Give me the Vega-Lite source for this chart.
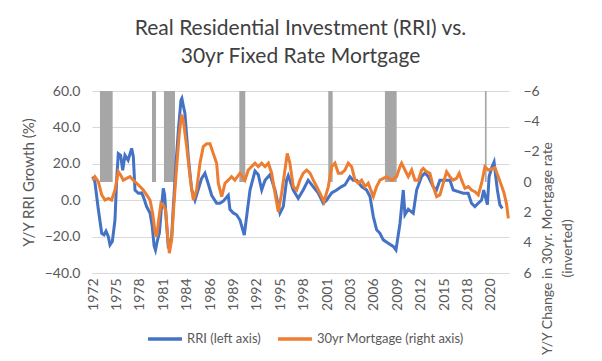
{
  "$schema": "https://vega.github.io/schema/vega-lite/v6.json",
  "width": 417,
  "height": 182,
  "autosize": {"type": "none"},
  "padding": {"left": 92, "top": 91, "right": 93, "bottom": 88},
  "background": "white",
  "config": {
    "font": "Lato",
    "view": {"stroke": null},
    "axis": {"labelFont": "Lato", "labelColor": "#595959", "titleColor": "#595959", "titleFont": "Lato", "titleFontWeight": "normal", "domain": false, "ticks": false, "labelOverlap": false}
  },
  "title": {
    "text": ["Real Residential Investment (RRI) vs.", "30yr Fixed Rate Mortgage"],
    "font": "Lato",
    "fontSize": 21,
    "fontWeight": "normal",
    "color": "#404040",
    "anchor": "middle",
    "lineHeight": 28,
    "offset": 17
  },
  "datasets": {
    "rec": [
      {"start": 1973.71, "end": 1975.24},
      {"start": 1979.98, "end": 1980.46},
      {"start": 1981.42, "end": 1982.75},
      {"start": 1990.5, "end": 1991.22},
      {"start": 2001.22, "end": 2001.75},
      {"start": 2008.05, "end": 2009.46},
      {"start": 2020.1, "end": 2020.3}
    ],
    "s": [
      {"t": 1972.83, "series": "RRI (left axis)", "v": 13},
      {"t": 1973.10, "series": "RRI (left axis)", "v": 10},
      {"t": 1973.51, "series": "RRI (left axis)", "v": -5},
      {"t": 1973.92, "series": "RRI (left axis)", "v": -18.2},
      {"t": 1974.20, "series": "RRI (left axis)", "v": -19},
      {"t": 1974.44, "series": "RRI (left axis)", "v": -17},
      {"t": 1974.72, "series": "RRI (left axis)", "v": -20},
      {"t": 1974.92, "series": "RRI (left axis)", "v": -24.6},
      {"t": 1975.20, "series": "RRI (left axis)", "v": -22.7},
      {"t": 1975.52, "series": "RRI (left axis)", "v": -10.9},
      {"t": 1975.72, "series": "RRI (left axis)", "v": 11},
      {"t": 1975.92, "series": "RRI (left axis)", "v": 25.6},
      {"t": 1976.20, "series": "RRI (left axis)", "v": 24.7},
      {"t": 1976.45, "series": "RRI (left axis)", "v": 16.5},
      {"t": 1976.72, "series": "RRI (left axis)", "v": 24.7},
      {"t": 1977.10, "series": "RRI (left axis)", "v": 22},
      {"t": 1977.53, "series": "RRI (left axis)", "v": 28.5},
      {"t": 1977.73, "series": "RRI (left axis)", "v": 23.9},
      {"t": 1977.93, "series": "RRI (left axis)", "v": 5.6},
      {"t": 1978.33, "series": "RRI (left axis)", "v": 3.8},
      {"t": 1978.73, "series": "RRI (left axis)", "v": 4},
      {"t": 1978.93, "series": "RRI (left axis)", "v": 2},
      {"t": 1979.33, "series": "RRI (left axis)", "v": -3.5},
      {"t": 1979.74, "series": "RRI (left axis)", "v": -7},
      {"t": 1980.00, "series": "RRI (left axis)", "v": -14},
      {"t": 1980.23, "series": "RRI (left axis)", "v": -25},
      {"t": 1980.40, "series": "RRI (left axis)", "v": -27.4},
      {"t": 1980.64, "series": "RRI (left axis)", "v": -22},
      {"t": 1980.87, "series": "RRI (left axis)", "v": -18},
      {"t": 1981.10, "series": "RRI (left axis)", "v": -5},
      {"t": 1981.34, "series": "RRI (left axis)", "v": 6.5},
      {"t": 1981.50, "series": "RRI (left axis)", "v": 3},
      {"t": 1981.72, "series": "RRI (left axis)", "v": -12},
      {"t": 1981.93, "series": "RRI (left axis)", "v": -25},
      {"t": 1982.15, "series": "RRI (left axis)", "v": -24},
      {"t": 1982.35, "series": "RRI (left axis)", "v": -20},
      {"t": 1982.55, "series": "RRI (left axis)", "v": -3.5},
      {"t": 1982.87, "series": "RRI (left axis)", "v": 20},
      {"t": 1983.15, "series": "RRI (left axis)", "v": 38},
      {"t": 1983.47, "series": "RRI (left axis)", "v": 55},
      {"t": 1983.58, "series": "RRI (left axis)", "v": 56},
      {"t": 1983.75, "series": "RRI (left axis)", "v": 52},
      {"t": 1983.95, "series": "RRI (left axis)", "v": 47.7},
      {"t": 1984.35, "series": "RRI (left axis)", "v": 23.9},
      {"t": 1984.76, "series": "RRI (left axis)", "v": 5.6},
      {"t": 1985.16, "series": "RRI (left axis)", "v": 0},
      {"t": 1985.56, "series": "RRI (left axis)", "v": 6},
      {"t": 1985.96, "series": "RRI (left axis)", "v": 12},
      {"t": 1986.36, "series": "RRI (left axis)", "v": 14.8},
      {"t": 1986.76, "series": "RRI (left axis)", "v": 9},
      {"t": 1987.17, "series": "RRI (left axis)", "v": 2.7},
      {"t": 1987.77, "series": "RRI (left axis)", "v": -1.7},
      {"t": 1988.17, "series": "RRI (left axis)", "v": -1.7},
      {"t": 1988.57, "series": "RRI (left axis)", "v": -0.5},
      {"t": 1989.17, "series": "RRI (left axis)", "v": 2.7},
      {"t": 1989.37, "series": "RRI (left axis)", "v": -5},
      {"t": 1989.77, "series": "RRI (left axis)", "v": -7},
      {"t": 1990.17, "series": "RRI (left axis)", "v": -8},
      {"t": 1990.58, "series": "RRI (left axis)", "v": -10.9},
      {"t": 1991.10, "series": "RRI (left axis)", "v": -19.1},
      {"t": 1991.79, "series": "RRI (left axis)", "v": 5.6},
      {"t": 1992.39, "series": "RRI (left axis)", "v": 16},
      {"t": 1992.79, "series": "RRI (left axis)", "v": 14},
      {"t": 1993.20, "series": "RRI (left axis)", "v": 5.6},
      {"t": 1993.60, "series": "RRI (left axis)", "v": 11},
      {"t": 1994.20, "series": "RRI (left axis)", "v": 14},
      {"t": 1994.80, "series": "RRI (left axis)", "v": 5.6},
      {"t": 1995.40, "series": "RRI (left axis)", "v": -7.2},
      {"t": 1995.80, "series": "RRI (left axis)", "v": -3.5},
      {"t": 1996.20, "series": "RRI (left axis)", "v": 11},
      {"t": 1996.40, "series": "RRI (left axis)", "v": 13.5},
      {"t": 1997.00, "series": "RRI (left axis)", "v": 5.6},
      {"t": 1997.60, "series": "RRI (left axis)", "v": 1},
      {"t": 1998.20, "series": "RRI (left axis)", "v": 5.6},
      {"t": 1998.80, "series": "RRI (left axis)", "v": 11},
      {"t": 1999.40, "series": "RRI (left axis)", "v": 7.5},
      {"t": 2000.00, "series": "RRI (left axis)", "v": 4},
      {"t": 2000.62, "series": "RRI (left axis)", "v": -1.7},
      {"t": 2001.02, "series": "RRI (left axis)", "v": 0},
      {"t": 2001.63, "series": "RRI (left axis)", "v": 4},
      {"t": 2002.23, "series": "RRI (left axis)", "v": 5.6},
      {"t": 2002.83, "series": "RRI (left axis)", "v": 7.5},
      {"t": 2003.23, "series": "RRI (left axis)", "v": 8.4},
      {"t": 2003.83, "series": "RRI (left axis)", "v": 12.9},
      {"t": 2004.23, "series": "RRI (left axis)", "v": 11},
      {"t": 2004.64, "series": "RRI (left axis)", "v": 11},
      {"t": 2005.24, "series": "RRI (left axis)", "v": 7.5},
      {"t": 2005.84, "series": "RRI (left axis)", "v": 5.6},
      {"t": 2006.25, "series": "RRI (left axis)", "v": 2},
      {"t": 2006.65, "series": "RRI (left axis)", "v": -9},
      {"t": 2007.05, "series": "RRI (left axis)", "v": -16.3},
      {"t": 2007.45, "series": "RRI (left axis)", "v": -18.2},
      {"t": 2007.85, "series": "RRI (left axis)", "v": -21.8},
      {"t": 2008.45, "series": "RRI (left axis)", "v": -23.6},
      {"t": 2009.05, "series": "RRI (left axis)", "v": -25.4},
      {"t": 2009.38, "series": "RRI (left axis)", "v": -27.4},
      {"t": 2009.86, "series": "RRI (left axis)", "v": -12.8},
      {"t": 2010.26, "series": "RRI (left axis)", "v": 5.6},
      {"t": 2010.46, "series": "RRI (left axis)", "v": -8},
      {"t": 2010.86, "series": "RRI (left axis)", "v": -5},
      {"t": 2011.46, "series": "RRI (left axis)", "v": -7.2},
      {"t": 2011.87, "series": "RRI (left axis)", "v": 5.6},
      {"t": 2012.47, "series": "RRI (left axis)", "v": 13},
      {"t": 2012.87, "series": "RRI (left axis)", "v": 15},
      {"t": 2013.27, "series": "RRI (left axis)", "v": 13},
      {"t": 2013.86, "series": "RRI (left axis)", "v": 7.5},
      {"t": 2014.26, "series": "RRI (left axis)", "v": 5.6},
      {"t": 2014.67, "series": "RRI (left axis)", "v": 11},
      {"t": 2015.48, "series": "RRI (left axis)", "v": 11},
      {"t": 2015.88, "series": "RRI (left axis)", "v": 11},
      {"t": 2016.28, "series": "RRI (left axis)", "v": 5.6},
      {"t": 2016.88, "series": "RRI (left axis)", "v": 4.7},
      {"t": 2017.48, "series": "RRI (left axis)", "v": 3.8},
      {"t": 2018.08, "series": "RRI (left axis)", "v": 3.8},
      {"t": 2018.48, "series": "RRI (left axis)", "v": -1.7},
      {"t": 2018.89, "series": "RRI (left axis)", "v": -3.5},
      {"t": 2019.29, "series": "RRI (left axis)", "v": -1.7},
      {"t": 2019.70, "series": "RRI (left axis)", "v": 0.1},
      {"t": 2019.95, "series": "RRI (left axis)", "v": 5.6},
      {"t": 2020.15, "series": "RRI (left axis)", "v": 2},
      {"t": 2020.40, "series": "RRI (left axis)", "v": -2.5},
      {"t": 2020.60, "series": "RRI (left axis)", "v": 12.9},
      {"t": 2020.95, "series": "RRI (left axis)", "v": 18.4},
      {"t": 2021.20, "series": "RRI (left axis)", "v": 21},
      {"t": 2021.40, "series": "RRI (left axis)", "v": 13},
      {"t": 2021.60, "series": "RRI (left axis)", "v": 5.6},
      {"t": 2021.90, "series": "RRI (left axis)", "v": -2.6},
      {"t": 2022.20, "series": "RRI (left axis)", "v": -4.5},

      {"t": 1972.83, "series": "30yr Mortgage (right axis)", "v": -0.12},
      {"t": 1973.10, "series": "30yr Mortgage (right axis)", "v": -0.35},
      {"t": 1973.51, "series": "30yr Mortgage (right axis)", "v": -0.02},
      {"t": 1973.92, "series": "30yr Mortgage (right axis)", "v": 0.85},
      {"t": 1974.32, "series": "30yr Mortgage (right axis)", "v": 1.19},
      {"t": 1974.72, "series": "30yr Mortgage (right axis)", "v": 1.08},
      {"t": 1975.12, "series": "30yr Mortgage (right axis)", "v": 1.19},
      {"t": 1975.52, "series": "30yr Mortgage (right axis)", "v": 0.53},
      {"t": 1975.92, "series": "30yr Mortgage (right axis)", "v": -0.68},
      {"t": 1976.20, "series": "30yr Mortgage (right axis)", "v": -0.46},
      {"t": 1976.52, "series": "30yr Mortgage (right axis)", "v": -0.12},
      {"t": 1976.92, "series": "30yr Mortgage (right axis)", "v": -0.24},
      {"t": 1977.33, "series": "30yr Mortgage (right axis)", "v": -0.35},
      {"t": 1977.73, "series": "30yr Mortgage (right axis)", "v": -0.12},
      {"t": 1978.13, "series": "30yr Mortgage (right axis)", "v": 0.08},
      {"t": 1978.53, "series": "30yr Mortgage (right axis)", "v": 0.30},
      {"t": 1978.93, "series": "30yr Mortgage (right axis)", "v": 0.53},
      {"t": 1979.33, "series": "30yr Mortgage (right axis)", "v": 0.85},
      {"t": 1979.74, "series": "30yr Mortgage (right axis)", "v": 1.19},
      {"t": 1980.06, "series": "30yr Mortgage (right axis)", "v": 2.06},
      {"t": 1980.34, "series": "30yr Mortgage (right axis)", "v": 3.26},
      {"t": 1980.54, "series": "30yr Mortgage (right axis)", "v": 3.60},
      {"t": 1980.78, "series": "30yr Mortgage (right axis)", "v": 2.51},
      {"t": 1981.06, "series": "30yr Mortgage (right axis)", "v": 1.40},
      {"t": 1981.34, "series": "30yr Mortgage (right axis)", "v": 1.51},
      {"t": 1981.62, "series": "30yr Mortgage (right axis)", "v": 1.85},
      {"t": 1981.87, "series": "30yr Mortgage (right axis)", "v": 3.60},
      {"t": 1982.07, "series": "30yr Mortgage (right axis)", "v": 4.69},
      {"t": 1982.35, "series": "30yr Mortgage (right axis)", "v": 3.82},
      {"t": 1982.63, "series": "30yr Mortgage (right axis)", "v": 1.40},
      {"t": 1982.95, "series": "30yr Mortgage (right axis)", "v": -1.01},
      {"t": 1983.27, "series": "30yr Mortgage (right axis)", "v": -3.20},
      {"t": 1983.55, "series": "30yr Mortgage (right axis)", "v": -4.44},
      {"t": 1983.75, "series": "30yr Mortgage (right axis)", "v": -4.08},
      {"t": 1984.16, "series": "30yr Mortgage (right axis)", "v": -2.33},
      {"t": 1984.56, "series": "30yr Mortgage (right axis)", "v": -0.35},
      {"t": 1984.96, "series": "30yr Mortgage (right axis)", "v": 1.19},
      {"t": 1985.36, "series": "30yr Mortgage (right axis)", "v": 0.53},
      {"t": 1985.76, "series": "30yr Mortgage (right axis)", "v": -1.24},
      {"t": 1986.16, "series": "30yr Mortgage (right axis)", "v": -2.33},
      {"t": 1986.56, "series": "30yr Mortgage (right axis)", "v": -2.52},
      {"t": 1986.97, "series": "30yr Mortgage (right axis)", "v": -2.52},
      {"t": 1987.37, "series": "30yr Mortgage (right axis)", "v": -1.87},
      {"t": 1987.77, "series": "30yr Mortgage (right axis)", "v": -1.24},
      {"t": 1987.97, "series": "30yr Mortgage (right axis)", "v": 0.08},
      {"t": 1988.38, "series": "30yr Mortgage (right axis)", "v": 0.96},
      {"t": 1988.78, "series": "30yr Mortgage (right axis)", "v": 0.08},
      {"t": 1989.17, "series": "30yr Mortgage (right axis)", "v": -0.12},
      {"t": 1989.57, "series": "30yr Mortgage (right axis)", "v": -0.35},
      {"t": 1989.97, "series": "30yr Mortgage (right axis)", "v": -0.12},
      {"t": 1990.58, "series": "30yr Mortgage (right axis)", "v": -0.58},
      {"t": 1991.18, "series": "30yr Mortgage (right axis)", "v": -0.12},
      {"t": 1991.58, "series": "30yr Mortgage (right axis)", "v": -0.79},
      {"t": 1991.98, "series": "30yr Mortgage (right axis)", "v": -1.01},
      {"t": 1992.39, "series": "30yr Mortgage (right axis)", "v": -1.24},
      {"t": 1992.79, "series": "30yr Mortgage (right axis)", "v": -1.01},
      {"t": 1993.20, "series": "30yr Mortgage (right axis)", "v": -1.24},
      {"t": 1993.60, "series": "30yr Mortgage (right axis)", "v": -1.01},
      {"t": 1994.00, "series": "30yr Mortgage (right axis)", "v": -1.24},
      {"t": 1994.40, "series": "30yr Mortgage (right axis)", "v": -0.58},
      {"t": 1994.80, "series": "30yr Mortgage (right axis)", "v": 0.74},
      {"t": 1995.20, "series": "30yr Mortgage (right axis)", "v": 1.96},
      {"t": 1995.60, "series": "30yr Mortgage (right axis)", "v": 0.74},
      {"t": 1996.00, "series": "30yr Mortgage (right axis)", "v": -0.79},
      {"t": 1996.28, "series": "30yr Mortgage (right axis)", "v": -1.88},
      {"t": 1996.60, "series": "30yr Mortgage (right axis)", "v": -1.24},
      {"t": 1997.00, "series": "30yr Mortgage (right axis)", "v": 0.30},
      {"t": 1997.41, "series": "30yr Mortgage (right axis)", "v": 0.53},
      {"t": 1997.81, "series": "30yr Mortgage (right axis)", "v": -0.12},
      {"t": 1998.21, "series": "30yr Mortgage (right axis)", "v": -0.58},
      {"t": 1998.62, "series": "30yr Mortgage (right axis)", "v": -0.79},
      {"t": 1999.02, "series": "30yr Mortgage (right axis)", "v": -0.58},
      {"t": 1999.42, "series": "30yr Mortgage (right axis)", "v": -0.12},
      {"t": 1999.82, "series": "30yr Mortgage (right axis)", "v": 0.30},
      {"t": 2000.22, "series": "30yr Mortgage (right axis)", "v": 0.74},
      {"t": 2000.70, "series": "30yr Mortgage (right axis)", "v": 1.30},
      {"t": 2001.23, "series": "30yr Mortgage (right axis)", "v": 0.30},
      {"t": 2001.63, "series": "30yr Mortgage (right axis)", "v": -1.01},
      {"t": 2002.03, "series": "30yr Mortgage (right axis)", "v": -1.24},
      {"t": 2002.43, "series": "30yr Mortgage (right axis)", "v": -0.58},
      {"t": 2002.83, "series": "30yr Mortgage (right axis)", "v": -0.58},
      {"t": 2003.23, "series": "30yr Mortgage (right axis)", "v": -0.79},
      {"t": 2003.63, "series": "30yr Mortgage (right axis)", "v": -1.24},
      {"t": 2004.04, "series": "30yr Mortgage (right axis)", "v": -1.01},
      {"t": 2004.44, "series": "30yr Mortgage (right axis)", "v": -0.12},
      {"t": 2004.84, "series": "30yr Mortgage (right axis)", "v": 0.08},
      {"t": 2005.24, "series": "30yr Mortgage (right axis)", "v": -0.12},
      {"t": 2005.64, "series": "30yr Mortgage (right axis)", "v": 0.30},
      {"t": 2006.04, "series": "30yr Mortgage (right axis)", "v": 0.08},
      {"t": 2006.65, "series": "30yr Mortgage (right axis)", "v": 0.96},
      {"t": 2007.05, "series": "30yr Mortgage (right axis)", "v": 0.30},
      {"t": 2007.45, "series": "30yr Mortgage (right axis)", "v": -0.12},
      {"t": 2008.25, "series": "30yr Mortgage (right axis)", "v": -0.35},
      {"t": 2008.85, "series": "30yr Mortgage (right axis)", "v": -0.12},
      {"t": 2009.45, "series": "30yr Mortgage (right axis)", "v": -0.35},
      {"t": 2009.86, "series": "30yr Mortgage (right axis)", "v": -1.01},
      {"t": 2010.06, "series": "30yr Mortgage (right axis)", "v": -1.24},
      {"t": 2010.46, "series": "30yr Mortgage (right axis)", "v": -0.79},
      {"t": 2010.86, "series": "30yr Mortgage (right axis)", "v": -0.35},
      {"t": 2011.27, "series": "30yr Mortgage (right axis)", "v": -0.79},
      {"t": 2011.67, "series": "30yr Mortgage (right axis)", "v": -0.12},
      {"t": 2012.07, "series": "30yr Mortgage (right axis)", "v": -0.12},
      {"t": 2012.47, "series": "30yr Mortgage (right axis)", "v": -0.79},
      {"t": 2012.67, "series": "30yr Mortgage (right axis)", "v": -0.90},
      {"t": 2013.07, "series": "30yr Mortgage (right axis)", "v": -0.68},
      {"t": 2013.47, "series": "30yr Mortgage (right axis)", "v": -0.58},
      {"t": 2013.87, "series": "30yr Mortgage (right axis)", "v": 0.30},
      {"t": 2014.28, "series": "30yr Mortgage (right axis)", "v": 0.96},
      {"t": 2014.68, "series": "30yr Mortgage (right axis)", "v": 0.85},
      {"t": 2015.08, "series": "30yr Mortgage (right axis)", "v": 0.08},
      {"t": 2015.48, "series": "30yr Mortgage (right axis)", "v": -0.68},
      {"t": 2015.88, "series": "30yr Mortgage (right axis)", "v": -0.35},
      {"t": 2016.28, "series": "30yr Mortgage (right axis)", "v": -0.12},
      {"t": 2016.68, "series": "30yr Mortgage (right axis)", "v": -0.24},
      {"t": 2017.00, "series": "30yr Mortgage (right axis)", "v": -0.58},
      {"t": 2017.29, "series": "30yr Mortgage (right axis)", "v": -0.12},
      {"t": 2017.69, "series": "30yr Mortgage (right axis)", "v": 0.41},
      {"t": 2018.09, "series": "30yr Mortgage (right axis)", "v": 0.30},
      {"t": 2018.49, "series": "30yr Mortgage (right axis)", "v": 0.53},
      {"t": 2018.89, "series": "30yr Mortgage (right axis)", "v": 0.64},
      {"t": 2019.30, "series": "30yr Mortgage (right axis)", "v": 0.85},
      {"t": 2019.70, "series": "30yr Mortgage (right axis)", "v": 0.08},
      {"t": 2020.10, "series": "30yr Mortgage (right axis)", "v": -1.01},
      {"t": 2020.50, "series": "30yr Mortgage (right axis)", "v": -0.79},
      {"t": 2020.90, "series": "30yr Mortgage (right axis)", "v": -0.85},
      {"t": 2021.30, "series": "30yr Mortgage (right axis)", "v": -0.95},
      {"t": 2021.70, "series": "30yr Mortgage (right axis)", "v": -0.36},
      {"t": 2022.10, "series": "30yr Mortgage (right axis)", "v": 0.24},
      {"t": 2022.40, "series": "30yr Mortgage (right axis)", "v": 0.72},
      {"t": 2022.70, "series": "30yr Mortgage (right axis)", "v": 1.44},
      {"t": 2022.92, "series": "30yr Mortgage (right axis)", "v": 2.4}
    ]
  },
  "layer": [
    {
      "layer": [
        {
          "data": {"name": "rec"},
          "mark": {"type": "rect", "color": "#A6A6A6"},
          "encoding": {
            "x": {"field": "start", "type": "quantitative", "scale": {"domain": [1972.75, 2023.0], "nice": false, "zero": false},
              "axis": {"title": null, "values": [1972.89, 1975.71, 1978.53, 1981.35, 1984.17, 1986.99, 1989.81, 1992.63, 1995.45, 1998.27, 2001.09, 2003.91, 2006.73, 2009.55, 2012.37, 2015.19, 2018.01, 2020.83], "tickCount": 100,
                "labelExpr": "floor(datum.value)", "labelAngle": -90, "labelFontSize": 14, "labelPadding": 5, "grid": false, "domain": true, "domainColor": "#D9D9D9", "labelFlush": false, "labelOverlap": false}},
            "x2": {"field": "end"},
            "y": {"datum": 60, "type": "quantitative", "scale": {"domain": [-40, 60], "nice": false, "zero": false},
              "axis": {"title": "Y/Y RRI Growth (%)", "values": [-40, -20, 0, 20, 40, 60], "tickCount": 100, "format": ".1f", "labelFontSize": 14, "labelPadding": 12, "labelOverlap": false, "labelFlush": false, "titleFontSize": 15, "titlePadding": 8, "grid": true, "gridColor": "#D9D9D9"}},
            "y2": {"datum": 10}
          }
        },
        {
          "data": {"name": "s"},
          "transform": [{"filter": "datum.series === 'RRI (left axis)'"}],
          "mark": {"type": "line", "strokeWidth": 3},
          "encoding": {
            "x": {"field": "t", "type": "quantitative"},
            "y": {"field": "v", "type": "quantitative"},
            "color": {"field": "series", "type": "nominal",
              "scale": {"domain": ["RRI (left axis)", "30yr Mortgage (right axis)"], "range": ["#4472C4", "#ED7D31"]},
              "legend": {"title": null, "orient": "none", "legendX": 54, "legendY": 229, "direction": "horizontal", "symbolType": "stroke", "symbolSize": 1150, "symbolStrokeWidth": 3.5, "labelFontSize": 13, "labelColor": "#595959", "columnPadding": 10, "labelOffset": 3}}
          }
        }
      ]
    },
    {
      "data": {"name": "s"},
      "transform": [{"filter": "datum.series === '30yr Mortgage (right axis)'"}],
      "mark": {"type": "line", "strokeWidth": 3},
      "encoding": {
        "x": {"field": "t", "type": "quantitative"},
        "y": {"field": "v", "type": "quantitative", "scale": {"domain": [-6, 6], "reverse": true, "nice": false, "zero": false},
          "axis": {"orient": "right", "title": ["Y/Y Change in 30yr. Mortgage rate", "(inverted)"], "titleAngle": -90, "titleBaseline": "top", "titleAlign": "center", "titleY": 157, "values": [-6, -4, -2, 0, 2, 4, 6], "tickCount": 100, "format": "d", "labelFontSize": 14, "labelPadding": 14, "labelOverlap": false, "labelFlush": false, "titleFontSize": 14, "titlePadding": -19, "titleLineHeight": 20, "grid": false}},
        "color": {"field": "series", "type": "nominal"}
      }
    }
  ],
  "resolve": {"scale": {"y": "independent"}}
}
